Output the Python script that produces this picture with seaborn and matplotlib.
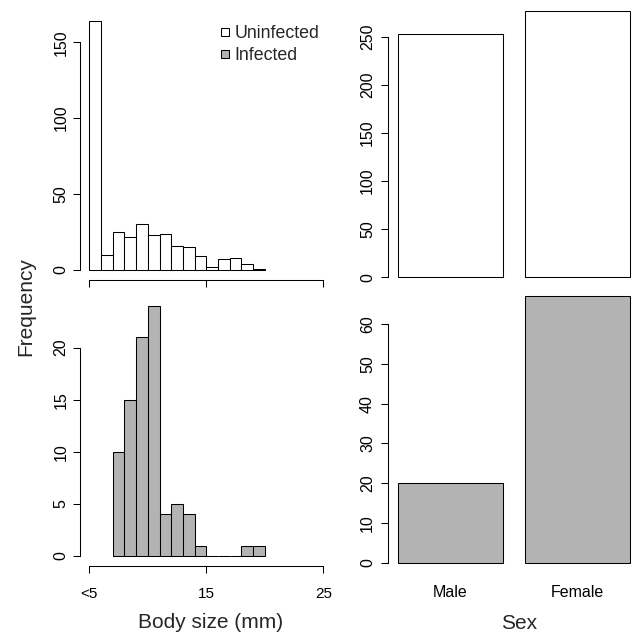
import numpy as np
import pandas as pd
import matplotlib
matplotlib.use("Agg")
import matplotlib.pyplot as plt
import seaborn as sns
from matplotlib.lines import Line2D

# ---------------------------------------------------------
# data
# ---------------------------------------------------------
# body size histograms, 1 mm bins
uninf_edges = list(range(5, 21))
uninf_counts = [164, 10, 25, 22, 30, 23, 24, 16, 15, 9, 2, 7, 8, 4, 1]
inf_edges = list(range(7, 21))
inf_counts = [10, 15, 21, 24, 4, 5, 4, 1, 0, 0, 0, 1, 1]

# counts by sex
sex = ["Male", "Female"]
uninf_sex = [253, 277]
inf_sex = [20, 67]

size_ticks = [5, 15, 25]
size_ticklabels = ["<5", "15", "25"]
uninf_yticks = [0, 50, 100, 150]
inf_yticks = [0, 5, 10, 15, 20]
uninf_sex_yticks = [0, 50, 100, 150, 200, 250]
inf_sex_yticks = [0, 10, 20, 30, 40, 50, 60]

GREY = "#b3b3b3"
LW = 0.75

sns.set_style("ticks")
plt.rcParams["font.family"] = ["Liberation Sans", "DejaVu Sans"]
plt.rcParams["axes.linewidth"] = LW
plt.rcParams["xtick.major.width"] = LW
plt.rcParams["ytick.major.width"] = LW
plt.rcParams["xtick.major.size"] = 5
plt.rcParams["ytick.major.size"] = 5
plt.rcParams["xtick.color"] = "black"
plt.rcParams["ytick.color"] = "black"
plt.rcParams["axes.edgecolor"] = "black"

W, H = 633, 634
fig = plt.figure(figsize=(W / 100, H / 100), dpi=100)


def box(x0, y0, x1, y1):
    # pixel box (top-left origin) -> figure fraction rect
    return [x0 / W, 1 - y1 / H, (x1 - x0) / W, (y1 - y0) / H]


def r_ylim(vmax):
    return (-0.04 * vmax, 1.04 * vmax)


def r_axes(ax, yticks, ypad):
    ax.spines["top"].set_visible(False)
    ax.spines["right"].set_visible(False)
    ax.set_yticks(yticks)
    ax.spines["left"].set_bounds(yticks[0], yticks[-1])
    ax.tick_params(axis="y", labelrotation=90, labelsize=11.5, pad=ypad)
    for lbl in ax.get_yticklabels():
        lbl.set_va("center")
    ax.set_xlabel("")
    ax.set_ylabel("")


def hist_frame(edges, counts):
    return pd.DataFrame({"size": [e + 0.5 for e in edges[:-1]], "n": counts})


# ---------------------------------------------------------
# left column: histograms of body size
# ---------------------------------------------------------
ax1 = fig.add_axes(box(80, 11, 332.7, 280))
sns.histplot(data=hist_frame(uninf_edges, uninf_counts), x="size", weights="n",
             bins=uninf_edges, color="white", edgecolor="black", linewidth=LW,
             alpha=1, ax=ax1)
ax1.set_xlim(4.2, 25.8)
ax1.set_ylim(r_ylim(max(uninf_counts)))
r_axes(ax1, uninf_yticks, 3.3)
ax1.set_xticks(size_ticks)
ax1.set_xticklabels([])
ax1.spines["bottom"].set_bounds(size_ticks[0], size_ticks[-1])

ax2 = fig.add_axes(box(80, 296, 332.7, 566))
sns.histplot(data=hist_frame(inf_edges, inf_counts), x="size", weights="n",
             bins=inf_edges, color=GREY, edgecolor="black", linewidth=LW,
             alpha=1, ax=ax2)
ax2.set_xlim(4.2, 25.8)
ax2.set_ylim(r_ylim(max(inf_counts)))
r_axes(ax2, inf_yticks, 3.3)
ax2.set_xticks(size_ticks)
ax2.set_xticklabels(size_ticklabels, fontsize=11)
ax2.tick_params(axis="x", pad=10)
ax2.spines["bottom"].set_bounds(size_ticks[0], size_ticks[-1])

handles = [
    Line2D([], [], ls="none", marker="s", markersize=5.5, markerfacecolor="white",
           markeredgecolor="black", markeredgewidth=LW),
    Line2D([], [], ls="none", marker="s", markersize=5.5, markerfacecolor=GREY,
           markeredgecolor="black", markeredgewidth=LW),
]
ax1.legend(handles, ["Uninfected", "Infected"], loc="upper left",
           bbox_to_anchor=(218.8 / W, 1 - 25 / H), bbox_transform=fig.transFigure,
           frameon=False, fontsize=12.8, handlelength=0.7, handletextpad=0.2,
           labelspacing=0.3, borderpad=0, borderaxespad=0)

fig.text(210.8 / W, 1 - 628.3 / H, "Body size (mm)", ha="center", va="baseline",
         fontsize=15)
fig.text(26 / W, 1 - 257 / H, "Frequency", ha="center", va="top",
         rotation=90, fontsize=15)

# ---------------------------------------------------------
# right column: counts by sex
# ---------------------------------------------------------
bw = 1 / 1.2
ax3 = fig.add_axes(box(388.3, 0, 633, 288))
sns.barplot(x=sex, y=uninf_sex, color="white", edgecolor="black", linewidth=LW,
            width=bw, saturation=1, ax=ax3)
ax3.set_xlim(-0.4907, 1.4388)
ax3.set_ylim(r_ylim(max(uninf_sex)))
r_axes(ax3, uninf_sex_yticks, 4.5)
ax3.spines["bottom"].set_visible(False)
ax3.set_xticks([])

ax4 = fig.add_axes(box(388.3, 285.5, 633, 573.4))
sns.barplot(x=sex, y=inf_sex, color=GREY, edgecolor="black", linewidth=LW,
            width=bw, saturation=1, ax=ax4)
ax4.set_xlim(-0.4907, 1.4388)
ax4.set_ylim(r_ylim(max(inf_sex)))
r_axes(ax4, inf_sex_yticks, 4.5)
ax4.spines["bottom"].set_visible(False)
ax4.tick_params(axis="x", length=0, pad=8.4, labelsize=11.5)

fig.text(519 / W, 1 - 629 / H, "Sex", ha="center", va="baseline", fontsize=15)

fig.savefig("out.png", dpi=100)
